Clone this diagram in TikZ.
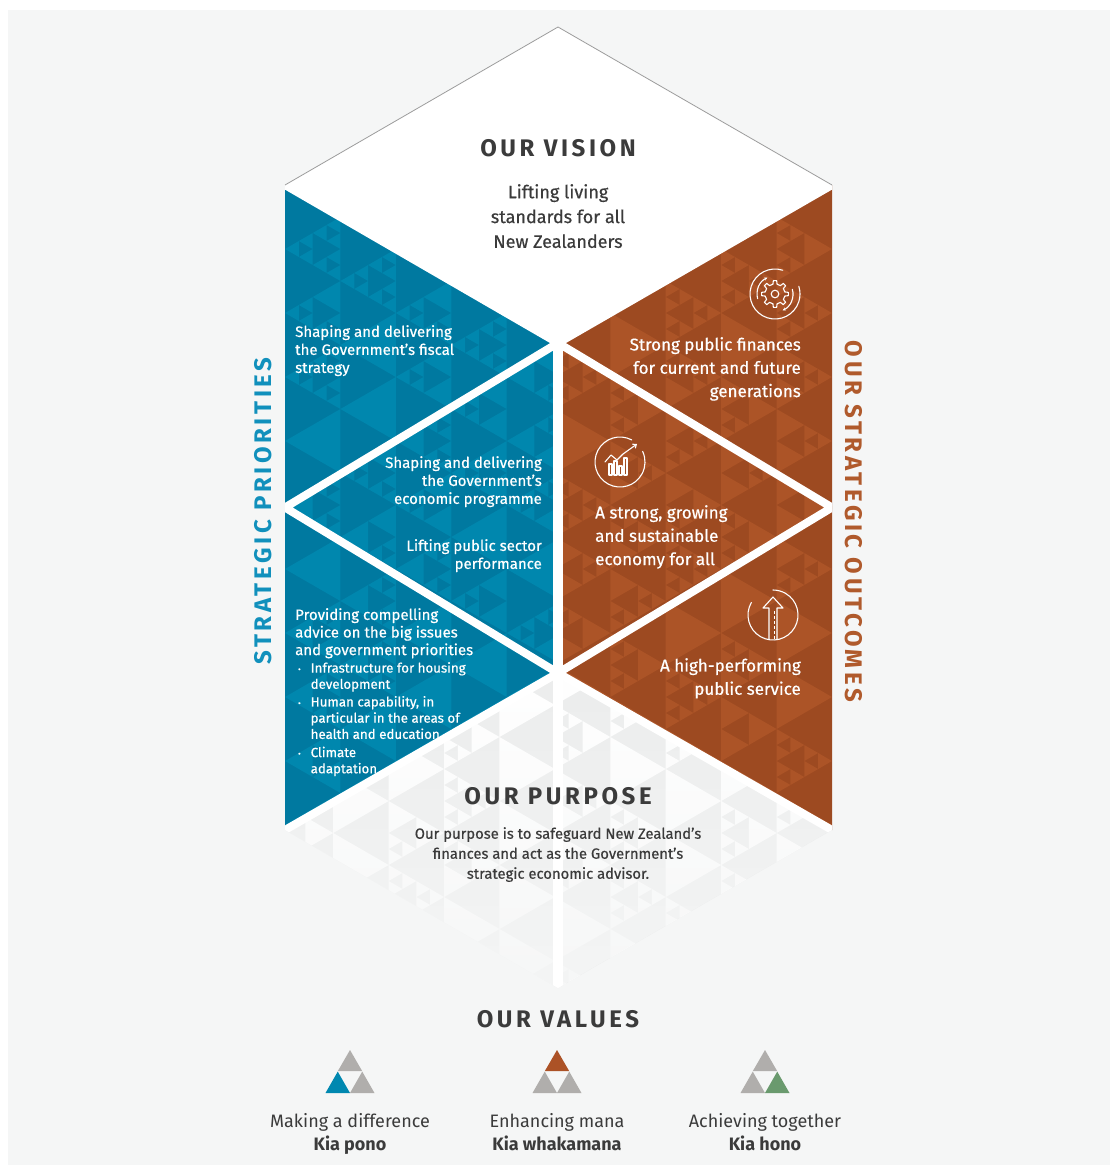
\documentclass[tikz,border=0pt]{standalone}
\usepackage{fontspec}
\setmainfont{Fira Sans}
\newfontfamily\medfont{Fira Sans}[FakeBold=0.5]
\usetikzlibrary{fadings,arrows.meta}

\definecolor{pagebg}{HTML}{F5F6F6}
\definecolor{ink}{HTML}{3B3B3B}
\definecolor{blueBase}{HTML}{0079A0}
\definecolor{blueTri}{HTML}{0087AE}
\definecolor{orBase}{HTML}{9D4A21}
\definecolor{orTri}{HTML}{AC5427}
\definecolor{purpBase}{HTML}{ECEDED}
\definecolor{blueLabel}{HTML}{1190BC}
\definecolor{orLabel}{HTML}{B05A2C}
\definecolor{valGray}{HTML}{B0AEAC}
\definecolor{valBlue}{HTML}{0088B0}
\definecolor{valOrange}{HTML}{AC5226}
\definecolor{valGreen}{HTML}{6A9A6E}
\definecolor{rimGray}{HTML}{9C9C9C}

\tikzfading[name=purposefade, top color=transparent!100, middle color=transparent!75, bottom color=transparent!10]

% one triangle of the texture: apex (#1,#2), side #3, #4=+1 apex left, -1 apex right
\newcommand\tricell[4]{\fill[trifill] (#1,#2) -- ++({(#4)*0.8660254*#3},{-0.5*#3}) -- ++(0,#3) -- cycle;}

% Sierpinski-like triangle texture on a lattice of big cells
% #1 x of first apex column, #2 last column index, #3 y of first row, #4 last row index, #5 direction
\newcommand\tritex[5]{%
  \foreach \tk in {0,...,#2}{%
    \foreach \tj in {0,...,#4}{%
      \pgfmathsetmacro\tbx{#1+(#5)*\tk*55.4256}%
      \pgfmathsetmacro\tby{#3+\tj*64+mod(\tk,2)*32}%
      \pgfmathsetmacro\tra{rnd}%
      \ifdim\tra pt<0.3pt
        \tricell{\tbx}{\tby}{64}{#5}%
      \else
        \foreach \tu/\tv in {0/0,1/-1,1/1}{%
          \pgfmathsetmacro\tcx{\tbx+(#5)*\tu*27.7128}%
          \pgfmathsetmacro\tcy{\tby+\tv*16}%
          \pgfmathsetmacro\trb{rnd}%
          \ifdim\trb pt<0.45pt
            \tricell{\tcx}{\tcy}{32}{#5}%
          \else
            \foreach \tp/\tq in {0/0,1/-1,1/1}{%
              \pgfmathsetmacro\tgx{\tcx+(#5)*\tp*13.8564}%
              \pgfmathsetmacro\tgy{\tcy+\tq*8}%
              \tricell{\tgx}{\tgy}{16}{#5}}%
          \fi}%
      \fi}}}

\newcommand\bul{\llap{{\fontsize{8}{8}\selectfont\raisebox{0.6pt}{•}}\hspace{10pt}}}

\tikzset{
  heading/.style={inner sep=0pt, text=ink,
    font=\fontsize{24}{28}\bfseries\addfontfeatures{LetterSpace=15}\selectfont},
  whitetext/.style={inner sep=0pt, text=white, font=\medfont\fontsize{15}{18}\selectfont},
  bullettext/.style={inner sep=0pt, text=white, font=\medfont\fontsize{13.3}{16.2}\selectfont},
  outtext/.style={inner sep=0pt, text=white, font=\medfont\fontsize{17}{23.3}\selectfont},
  visiontext/.style={inner sep=0pt, text=ink, font=\medfont\fontsize{18}{24.8}\selectfont},
  purposetext/.style={inner sep=0pt, text=ink, font=\medfont\fontsize{14.8}{20}\selectfont},
  valtext/.style={inner sep=0pt, text=ink, font=\fontsize{18}{23}\selectfont},
  gapline/.style={draw=white, line width=8pt},
  iconline/.style={draw=white, line width=1.1pt, line cap=round, line join=round},
}

\newcommand\valueicon[4]{%
  \fill[#2] (#1,1050) -- ++(12.25,21.2) -- ++(-24.5,0) -- cycle;
  \fill[#3] (#1-12.25,1071.6) -- ++(12.25,21.4) -- ++(-24.5,0) -- cycle;
  \fill[#4] (#1+12.25,1071.6) -- ++(12.25,21.4) -- ++(-24.5,0) -- cycle;}

\begin{document}
\begin{tikzpicture}[x=1pt, y=-1pt]
\pgfmathsetseed{4217}
\useasboundingbox (0,0) rectangle (1110,1165);
\fill[white] (0,0) rectangle (1110,1165);
\fill[pagebg] (8,10) rectangle (1110,1165);

% hexagon corners
\coordinate (T)  at (558,27);
\coordinate (L1) at (285,185);
\coordinate (LM) at (285,507.5);
\coordinate (L2) at (285,830);
\coordinate (R1) at (832,185);
\coordinate (RM) at (832,507.5);
\coordinate (R2) at (832,830);
\coordinate (C1) at (558,343);
\coordinate (C2) at (558,673);
\coordinate (B)  at (558,988);

% vision
\fill[white] (T) -- (R1) -- (C1) -- (L1) -- cycle;

% strategic priorities
\fill[blueBase] (L1) -- (C1) -- (C2) -- (L2) -- cycle;
\begin{scope}[trifill/.style={fill=blueTri}]
  \clip (L1) -- (C1) -- (C2) -- (L2) -- cycle;
  \tritex{285}{4}{121}{12}{1}
\end{scope}

% strategic outcomes
\fill[orBase] (R1) -- (C1) -- (C2) -- (R2) -- cycle;
\begin{scope}[trifill/.style={fill=orTri}]
  \clip (R1) -- (C1) -- (C2) -- (R2) -- cycle;
  \tritex{832}{4}{121}{12}{-1}
\end{scope}

% purpose
\fill[purpBase] (C2) -- (R2) -- (B) -- (L2) -- cycle;
\begin{scope}[trifill/.style={fill=white}]
  \clip (C2) -- (R2) -- (B) -- (L2) -- cycle;
  \tritex{832}{10}{609}{6}{-1}
\end{scope}
\fill[pagebg, path fading=purposefade] (C2) -- (R2) -- (B) -- (L2) -- cycle;

% white gaps between the panels
\begin{scope}
  \clip (T) -- (R1) -- (R2) -- (B) -- (L2) -- (L1) -- cycle;
  \draw[gapline] (L1) -- (C1) (LM) -- (C1) (LM) -- (C2) (L2) -- (C2);
  \draw[gapline] (R1) -- (C1) (RM) -- (C1) (RM) -- (C2) (R2) -- (C2);
  \draw[gapline, line width=10pt] (C1) ++(0,-12) -- (B);
\end{scope}
\draw[rimGray, line width=0.8pt] (L1) -- (T) -- (R1);

% headings
\node[heading] (vision) at (558,148.5) {OUR VISION};
\node[heading] (purpose) at (558,796.5) {OUR PURPOSE};
\node[heading] (values) at (558,1019) {OUR VALUES};
\node[heading, text=blueLabel, rotate=90] (priorities) at (263,511) {STRATEGIC PRIORITIES};
\node[heading, text=orLabel, rotate=-90] (outcomes) at (854,521.5) {OUR STRATEGIC OUTCOMES};

% vision and purpose statements
\node[visiontext, anchor=north, align=center] (visiontxt) at (558,184)
  {Lifting living\\standards for all\\New Zealanders};
\node[purposetext, anchor=north, align=center] (purposetxt) at (558,827)
  {Our purpose is to safeguard New Zealand’s\\finances and act as the Government’s\\strategic economic advisor.};

% priorities
\node[whitetext, anchor=north west, align=left] (fiscal) at (295,325)
  {Shaping and delivering\\the Government’s fiscal\\strategy};
\node[whitetext, anchor=north east, align=right] (econ) at (542,456)
  {Shaping and delivering\\the Government’s\\economic programme};
\node[whitetext, anchor=north east, align=right] (perf) at (542,539)
  {Lifting public sector\\performance};
\node[whitetext, anchor=north west, align=left, font=\medfont\fontsize{15}{17.6}\selectfont] (advice) at (295,608)
  {Providing compelling\\advice on the big issues\\and government priorities};
\node[bullettext, anchor=north west, align=left] (bullets) at (310.5,662)
  {\bul Infrastructure for housing\\development\\[1.5pt]\bul Human capability, in\\particular in the areas of\\health and education\\[2pt]\bul Climate\\adaptation};

% outcomes
\node[outtext, anchor=north east, align=right] (finances) at (801,337)
  {Strong public finances\\for current and future\\generations};
\node[outtext, anchor=north west, align=left] (economy) at (595,505)
  {A strong, growing\\and sustainable\\economy for all};
\node[outtext, anchor=north east, align=right] (service) at (801,658)
  {A high-performing\\public service};

% gear with refresh arrows
\begin{scope}[shift={(775,294)}, yscale=-1]
  \draw[iconline] (72:25) arc[start angle=72, end angle=378, radius=25];
  \draw[iconline, -{Stealth[length=3.2pt,width=3.2pt]}] (195:18) arc[start angle=195, end angle=115, radius=18];
  \draw[iconline, -{Stealth[length=3.2pt,width=3.2pt]}] (15:18) arc[start angle=15, end angle=-65, radius=18];
  \draw[iconline] (-12:10) \foreach \ga in {0,45,...,315}{ -- (\ga-12:10) -- (\ga-7:13.5) -- (\ga+7:13.5) -- (\ga+12:10)} -- cycle;
  \draw[iconline] (0,0) circle[radius=3.8];
\end{scope}

% rising chart
\begin{scope}[shift={(620,462)}, yscale=-1]
  \draw[iconline] (62:25) arc[start angle=62, end angle=385, radius=25];
  \draw[iconline] (-11,-13) rectangle (-8,-2);
  \draw[iconline] (-6,-13) rectangle (-3,1);
  \draw[iconline] (-1,-13) rectangle (2,-4);
  \draw[iconline] (4,-13) rectangle (7,4);
  \draw[iconline, -{Straight Barb[length=3pt,width=5pt]}] (-15,0) -- (-9,7) -- (-3,2) -- (3,8) -- (17,18);
\end{scope}

% upward arrow
\begin{scope}[shift={(773,615)}, yscale=-1]
  \draw[iconline] (150:25) arc[start angle=150, end angle=450, radius=25];
  \draw[iconline, line cap=butt] (-4,-24) -- (-4,7) -- (-10,7) -- (0,18) -- (10,7) -- (4,7) -- (4,-24);
  \draw[iconline, line cap=butt, dash pattern=on 3pt off 2pt] (1.2,4) -- (1.2,-24);
\end{scope}

% values
\valueicon{350}{valGray}{valBlue}{valGray}
\valueicon{557}{valOrange}{valGray}{valGray}
\valueicon{765}{valGray}{valGray}{valGreen}
\node[valtext, anchor=north, align=center] (val1) at (350,1113) {Making a difference\\\textbf{Kia pono}};
\node[valtext, anchor=north, align=center] (val2) at (557,1113) {Enhancing mana\\\textbf{Kia whakamana}};
\node[valtext, anchor=north, align=center] (val3) at (765,1113) {Achieving together\\\textbf{Kia hono}};
\end{tikzpicture}
\end{document}
